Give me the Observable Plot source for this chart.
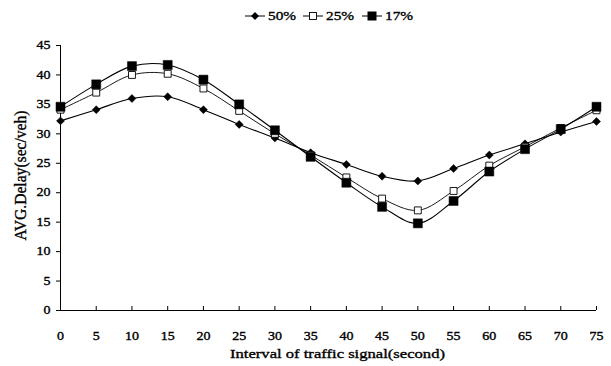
<!DOCTYPE html>
<html>
<head>
<meta charset="utf-8">
<script src="https://cdn.jsdelivr.net/npm/d3@7"></script>
<script src="https://cdn.jsdelivr.net/npm/@observablehq/plot@0.6"></script>
<style>
  body { margin: 0; background: #fff; font-family: "Liberation Serif", "Times New Roman", serif; }
  #legend { height: 30px; position: relative; }
  .item { position: absolute; top: 9px; display: flex; align-items: center; font-size: 13px; line-height: 14px; color: #000; -webkit-text-stroke: 0.35px #000; }
  .item svg { margin-right: 3px; }
  .item span { display: inline-block; transform: scaleX(1.18); transform-origin: left center; }
  #chart svg text { stroke: #000; stroke-width: 0.35px; }
</style>
</head>
<body>
<div id="legend"></div>
<div id="chart"></div>
<script>
// Interval of the traffic signal (seconds)
const intervals = [0, 5, 10, 15, 20, 25, 30, 35, 40, 45, 50, 55, 60, 65, 70, 75];
// Average delay (sec/veh) for each share
const delay50 = [32.2, 34.1, 36.0, 36.3, 34.1, 31.6, 29.3, 26.8, 24.8, 22.8, 22.0, 24.1, 26.4, 28.3, 30.3, 32.1];
const delay25 = [34.1, 37.0, 40.0, 40.2, 37.7, 33.9, 30.0, 26.4, 22.6, 19.0, 17.0, 20.3, 24.6, 27.8, 31.0, 34.0];
const delay17 = [34.6, 38.4, 41.5, 41.7, 39.2, 35.0, 30.6, 26.1, 21.7, 17.6, 14.8, 18.6, 23.6, 27.4, 30.8, 34.6];
const seriesNames = ["50%", "25%", "17%"];
const yTicks = [0, 5, 10, 15, 20, 25, 30, 35, 40, 45];

const rows = (vals, name) => intervals.map((x, i) => ({x, y: vals[i], s: name}));
const s50 = rows(delay50, "50%");
const s25 = rows(delay25, "25%");
const s17 = rows(delay17, "17%");

const font = "Liberation Serif, Times New Roman, serif";

const chart = Plot.plot({
  width: 611,
  height: 336,
  marginLeft: 60,
  marginRight: 15,
  marginTop: 15,
  marginBottom: 56,
  style: {fontFamily: font, fontSize: "11.5px", color: "#000", background: "#fff"},
  x: {domain: [0, 75]},
  y: {domain: [0, 45]},
  marks: [
    Plot.axisY(yTicks, {tickSize: 4, tickPadding: 6, label: null, fontSize: 11.5, className: "wide"}),
    Plot.axisX(intervals, {tickSize: -4, tickPadding: 25, label: null, fontSize: 11.5, className: "wide"}),
    Plot.ruleY([0], {stroke: "#000"}),
    Plot.ruleX([0], {stroke: "#000"}),
    Plot.line(s50, {x: "x", y: "y", curve: "catmull-rom", stroke: "#000", strokeWidth: 1.1}),
    Plot.line(s25, {x: "x", y: "y", curve: "catmull-rom", stroke: "#000", strokeWidth: 0.9}),
    Plot.line(s17, {x: "x", y: "y", curve: "catmull-rom", stroke: "#000", strokeWidth: 1.1}),
    Plot.dot(s50, {x: "x", y: "y", symbol: "diamond2", r: 3.6, fill: "#000", stroke: "#000", strokeWidth: 0.5}),
    Plot.dot(s25, {x: "x", y: "y", symbol: "square", r: 3.9, fill: "#fff", stroke: "#000", strokeWidth: 0.9}),
    Plot.dot(s17, {x: "x", y: "y", symbol: "square", r: 5.1, fill: "#000", stroke: "#000", strokeWidth: 0.5}),
    Plot.text(["Interval of traffic signal(second)"], {frameAnchor: "bottom", lineAnchor: "middle", dx: 9, dy: 43, fontSize: 13.5, className: "xtitle"}),
    Plot.text(["AVG.Delay(sec/veh)"], {frameAnchor: "left", textAnchor: "middle", lineAnchor: "middle", dx: -40, dy: -2.5, rotate: -90, fontSize: 16, className: "ytitle"})
  ]
});
document.getElementById("chart").append(chart);

// Glyphs are drawn wide: stretch horizontal labels, set the title lengths
const svg = d3.select(chart);
svg.selectAll(".wide text").each(function() {
  const w = this.getComputedTextLength();
  this.setAttribute("textLength", (w * 1.22).toFixed(1));
  this.setAttribute("lengthAdjust", "spacingAndGlyphs");
});
svg.selectAll(".xtitle text").attr("textLength", 215).attr("lengthAdjust", "spacingAndGlyphs");
svg.selectAll(".ytitle text").attr("textLength", 130).attr("lengthAdjust", "spacingAndGlyphs");

// Legend: short line with marker, then the series name
const legend = d3.select("#legend");
const lefts = [245, 303, 362];
const markers = [
  g => g.append("path").attr("d", "M10,3 L14,7 L10,11 L6,7 Z").attr("fill", "#000"),
  g => g.append("rect").attr("x", 6.5).attr("y", 3.5).attr("width", 7).attr("height", 7).attr("fill", "#fff").attr("stroke", "#000").attr("stroke-width", 0.9),
  g => g.append("rect").attr("x", 5.5).attr("y", 2.5).attr("width", 9).attr("height", 9).attr("fill", "#000")
];
seriesNames.forEach((name, i) => {
  const item = legend.append("div").attr("class", "item").style("left", lefts[i] + "px");
  const s = item.append("svg").attr("width", 20).attr("height", 14);
  s.append("line").attr("x1", 0).attr("x2", 20).attr("y1", 7).attr("y2", 7).attr("stroke", "#000").attr("stroke-width", 1);
  markers[i](s);
  item.append("span").text(name);
});
</script>
</body>
</html>
